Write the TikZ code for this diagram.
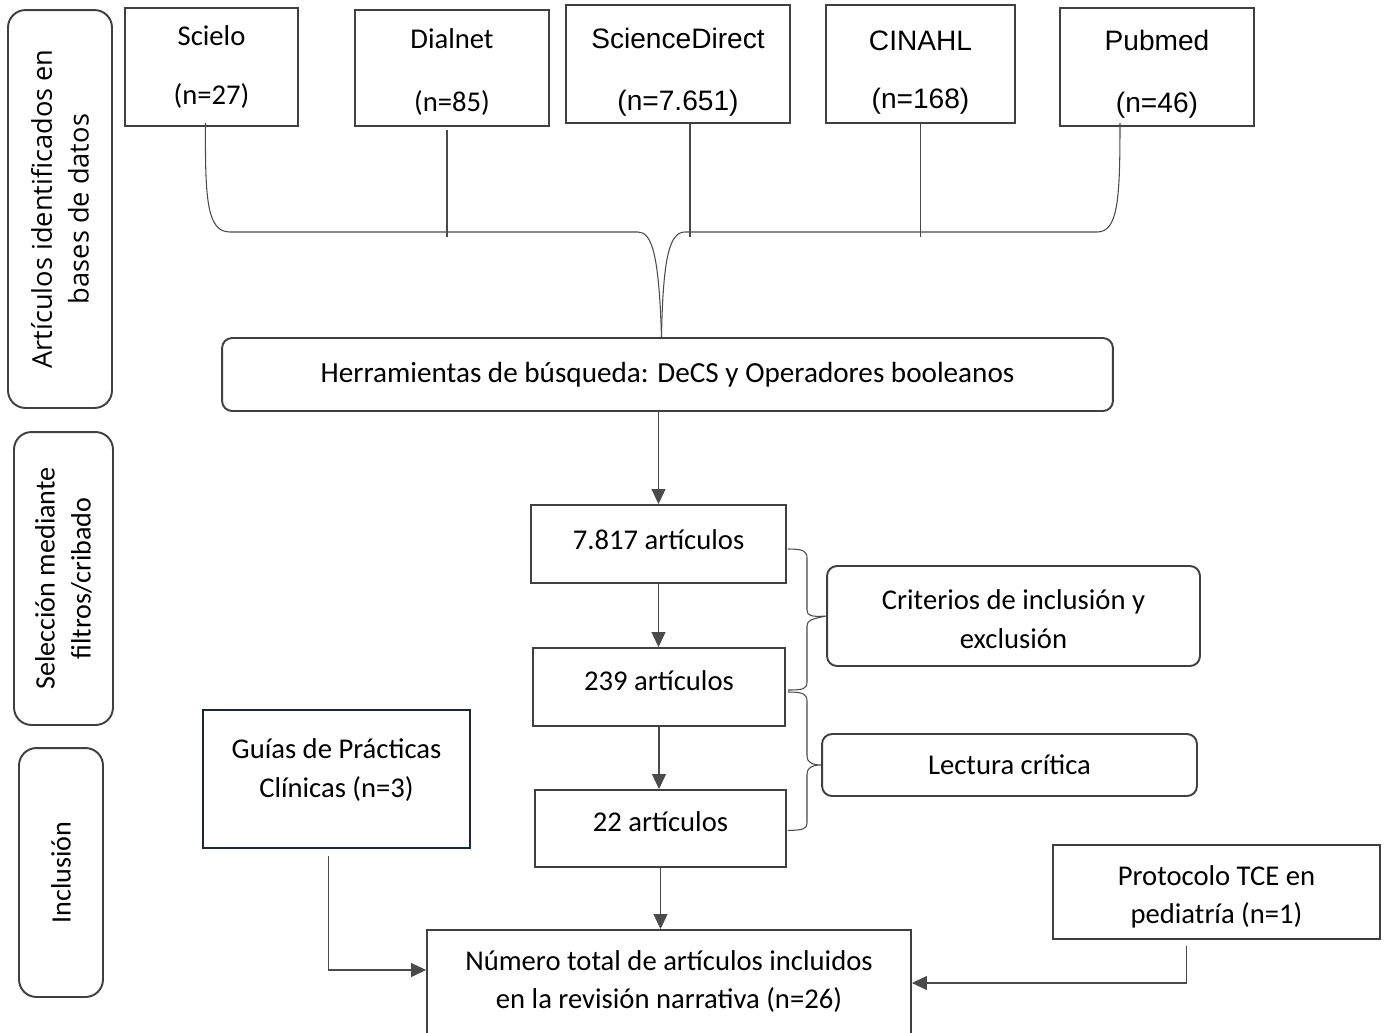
\documentclass[tikz,border=0pt]{standalone}
\usepackage{fontspec}
\setmainfont{Carlito}
\newfontfamily\arialf{Liberation Sans}
\newfontfamily\openf{Open Sans}
\usetikzlibrary{arrows.meta,calc}
\definecolor{edgec}{HTML}{404040}
\definecolor{navyc}{HTML}{1B2838}
\definecolor{connc}{HTML}{4A4A4A}
\begin{document}
\begin{tikzpicture}[x=0.02cm,y=-0.02cm,
  box/.style={draw=edgec,line width=1.1pt,align=center,inner sep=0pt,font=\fontsize{16.3}{21.6}\selectfont},
  topbox/.style={box,font=\fontsize{16.3}{34}\selectfont},
  rbox/.style={box,rounded corners=0.2cm},
  side/.style={draw=edgec,line width=1.1pt,rounded corners=0.35cm,align=center,inner sep=0pt,rotate=90,font=\fontsize{16}{20.5}\selectfont},
  conn/.style={draw=connc,line width=0.6pt},
  arr/.style={conn,-{Triangle[length=0.3cm,width=0.28cm]}},
  txt/.style={align=center,inner sep=0pt,font=\fontsize{16.3}{21.6}\selectfont},
  atxt/.style={align=center,inner sep=0pt,font=\arialf\fontsize{16}{35}\selectfont},
]
\useasboundingbox[fill=white] (0,0) rectangle (1387,1032);

% side labels
\node[side,minimum width=7.96cm,minimum height=2.08cm,font=\openf\fontsize{15.5}{21}\selectfont] (side1) at (60,209) {Artículos identificados en\\bases de datos};
\node[side,minimum width=5.86cm,minimum height=1.98cm] (side2) at (63.5,578.5) {\raisebox{-0.06cm}{Selección mediante}\\\raisebox{-0.06cm}{filtros/cribado}};
\node[side,minimum width=4.98cm,minimum height=1.68cm] (side3) at (61,872.5) {Inclusión};

% databases
\node[topbox,minimum width=3.46cm,minimum height=2.36cm] (scielo) at (211.5,67) {\raisebox{-0.04cm}{Scielo}\\\raisebox{-0.04cm}{(n=27)}};
\node[box,minimum width=3.88cm,minimum height=2.32cm,
  label={[txt,yshift=-0.08cm,font=\fontsize{16.3}{36}\selectfont]center:{Dialnet\\(n=85)}}] (dialnet) at (452,68) {};
\node[box,minimum width=4.48cm,minimum height=2.36cm,
  label={[atxt,yshift=-0.16cm]center:{ScienceDirect\\(n=7.651)}}] (scidir) at (678,64) {};
\node[box,minimum width=3.78cm,minimum height=2.36cm,
  label={[atxt,yshift=-0.17cm,font=\arialf\fontsize{16}{33}\selectfont]center:{CINAHL\\(n=168)}}] (cinahl) at (920.5,64) {};
\node[box,minimum width=3.88cm,minimum height=2.36cm,
  label={[atxt,yshift=-0.14cm]center:{Pubmed\\(n=46)}}] (pubmed) at (1157,67) {};

% search tools
\node[rbox,minimum width=17.82cm,minimum height=1.46cm,font=\fontsize{16.6}{21.6}\selectfont] (herr) at (667.5,374.5) {Herramientas de búsqueda: DeCS y Operadores booleanos};

% screening
\node[box,minimum width=5.10cm,minimum height=1.56cm] (n7817) at (658.5,544) {\raisebox{0.16cm}{7.817 artículos}};
\node[box,minimum width=5.04cm,minimum height=1.56cm] (n239) at (659,687) {\raisebox{0.24cm}{239 artículos}};
\node[box,minimum width=5.02cm,minimum height=1.54cm] (n22) at (660.5,828.5) {\raisebox{0.26cm}{22 artículos}};

\node[rbox,minimum width=7.46cm,minimum height=2.00cm,
  label={[txt,yshift=-0.06cm,font=\fontsize{16.3}{22.5}\selectfont]center:{Criterios de inclusión y\\exclusión}}] (criterios) at (1013.5,616) {};
\node[rbox,minimum width=7.50cm,minimum height=1.24cm] (lectura) at (1009.5,765) {Lectura crítica};

% inclusion
\node[box,draw=navyc,minimum width=5.34cm,minimum height=2.76cm,
  label={[txt,yshift=0.18cm,font=\fontsize{16.3}{22}\selectfont]center:{Guías de Prácticas\\Clínicas (n=3)}}] (guias) at (336.5,779) {};
\node[box,minimum width=6.54cm,minimum height=1.88cm,
  label={[txt,yshift=-0.1cm,font=\fontsize{16.3}{22}\selectfont]center:{Protocolo TCE en\\pediatría (n=1)}}] (protocolo) at (1216.5,892) {};
\node[box,minimum width=9.68cm,minimum height=2.12cm,
  label={[txt,yshift=0.03cm,font=\fontsize{16.3}{22}\selectfont]center:{Número total de artículos incluidos\\en la revisión narrativa (n=26)}}] (final) at (669,983) {};

% top brace
\coordinate (join) at ($(herr.north)+(-6,0)$);
\draw[conn] ($(scielo.south)+(-6,-4)$) .. controls (205,200) and (207,232) .. (230,232) -- (638,232) .. controls (652,232) and (659,255) .. (join);
\draw[conn] ($(pubmed.south)+(-37,-4)$) .. controls (1120,200) and (1118,232) .. (1097,232) -- (685,232) .. controls (670,232) and (663,255) .. (join);
\draw[conn] ($(dialnet.south)+(-5,3)$) -- +(0,107);
\draw[conn] ($(scidir.south)+(12,0)$) -- +(0,113);
\draw[conn] (cinahl.south) -- +(0,113);

% right braces
\draw[conn] ($(n7817.east)+(1,5)$) .. controls (803,549) and (807,551) .. (807,558) -- (807,610) .. controls (807,616) and (812,617) .. (criterios.west) .. controls (812,619) and (807,620) .. (807,626) -- (807,682) .. controls (807,689) and (803,690) .. ($(n239.east)+(2,3)$);
\draw[conn] ($(n239.east)+(2,5)$) .. controls (803,692) and (807,694) .. (807,701) -- (807,756) .. controls (807,762) and (812,765) .. (lectura.west) .. controls (812,765) and (807,768) .. (807,774) -- (807,823) .. controls (807,829) and (803,830) .. ($(n22.east)+(1,2)$);

% arrows
\draw[arr] (herr.south -| n7817.north) -- (n7817.north);
\draw[arr] (n7817.south) -- (n7817.south |- n239.north);
\draw[arr] (n239.south) -- (n239.south |- n22.north);
\draw[arr] (n22.south) -- (n22.south |- final.north);
\draw[arr] ($(guias.south)+(-8,7)$) |- ($(final.west)+(0,-13)$);
\draw[arr] ($(protocolo.south)+(-30,6)$) |- (final.east);
\end{tikzpicture}
\end{document}
